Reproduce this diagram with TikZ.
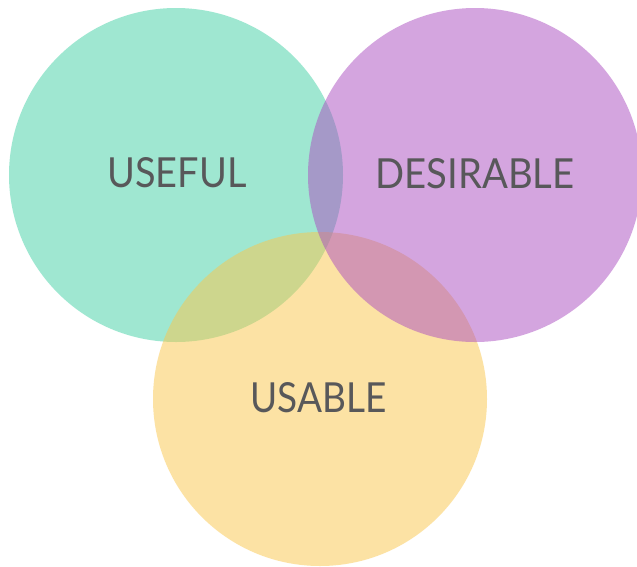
\documentclass[tikz,border=0pt]{standalone}
\usepackage{fontspec}
\setmainfont{Lato}
\usepackage{graphicx}
\definecolor{cgreen}{RGB}{65,209,165}
\definecolor{cyellow}{RGB}{251,199,75}
\definecolor{cpurple}{RGB}{171,77,193}
\definecolor{ctext}{RGB}{88,88,90}
\tikzset{
  venn/.style={circle, minimum size=334pt, inner sep=0pt, fill opacity=0.5},
  vlabel/.style={text=ctext, inner sep=0pt, text opacity=1}
}
\begin{document}
\begin{tikzpicture}[x=1pt,y=-1pt]
\useasboundingbox[fill=white] (0,0) rectangle (637,566);
\node[venn, fill=cgreen] (useful) at (176,175) {};
\node[venn, fill=cyellow] (usable) at (320,399) {};
\node[venn, fill=cpurple] (desirable) at (475,175) {};
\node[vlabel] (tuseful) at (177,172.3) {\resizebox{139pt}{30pt}{USEFUL}};
\node[vlabel] (tdesirable) at (475,173.3) {\resizebox{199pt}{30pt}{DESIRABLE}};
\node[vlabel] (tusable) at (318.7,397.7) {\resizebox{136pt}{30pt}{USABLE}};
\end{tikzpicture}
\end{document}
